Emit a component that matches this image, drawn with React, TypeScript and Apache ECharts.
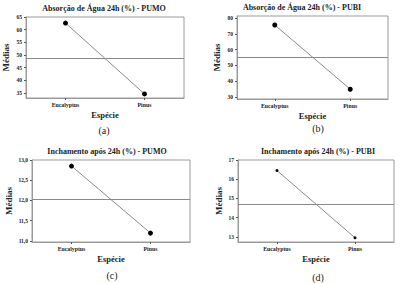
import React, { useEffect, useRef } from "react";
import * as echarts from "echarts";

const categories = ["Eucalyptus", "Pinus"];
const titles = [
  "Absorção de Água 24h (%) - PUMO",
  "Absorção de Água 24h (%) - PUBI",
  "Inchamento após 24h (%) - PUMO",
  "Inchamento após 24h (%) - PUBI",
];
const panelLabels = ["(a)", "(b)", "(c)", "(d)"];
const valuesA = [62.6, 34.6];
const valuesB = [75.6, 34.9];
const valuesC = [12.85, 11.19];
const valuesD = [16.45, 12.95];
const ticksA = [35, 40, 45, 50, 55, 60, 65];
const ticksB = [30, 40, 50, 60, 70, 80];
const ticksC = [11.0, 11.5, 12.0, 12.5, 13.0];
const ticksD = [13, 14, 15, 16, 17];

const SERIF = "'Liberation Serif', 'Times New Roman', serif";

export default function App() {
  const ref = useRef<HTMLDivElement>(null);
  useEffect(() => {
    const chart = echarts.init(ref.current!, undefined, { renderer: "svg" });

    const panels = [
      { grid: { left: 26, top: 17, width: 158, height: 81 }, min: 33, max: 65, ticks: ticksA, data: valuesA, fmt: (v: number) => String(v), nameGap: 16, sym: 5, title: [104, 8], lab: [104, 130] },
      { grid: { left: 237, top: 16, width: 151, height: 83 }, min: 28.7, max: 81.3, ticks: ticksB, data: valuesB, fmt: (v: number) => String(v), nameGap: 16, sym: 5, title: [302, 7], lab: [318, 128] },
      { grid: { left: 32, top: 160, width: 158, height: 82 }, min: 10.97, max: 13.0, ticks: ticksC, data: valuesC, fmt: (v: number) => v.toFixed(1).replace(".", ","), nameGap: 19, sym: 5, title: [107, 151], lab: [112, 275] },
      { grid: { left: 238, top: 160, width: 156, height: 82 }, min: 12.73, max: 17.0, ticks: ticksD, data: valuesD, fmt: (v: number) => String(v), nameGap: 15, sym: 3, title: [318, 151], lab: [318, 277] },
    ];

    const option: any = {
      animation: false,
      backgroundColor: "#fff",
      grid: panels.map((p) => ({ ...p.grid, show: true, borderColor: "#9a9a9a", borderWidth: 1, backgroundColor: "transparent" })),
      xAxis: panels.map((p, i) => ({
        type: "category",
        gridIndex: i,
        data: categories,
        boundaryGap: true,
        name: "Espécie",
        nameLocation: "middle",
        nameGap: 12,
        nameTextStyle: { fontFamily: SERIF, fontWeight: "bold", fontSize: 8.5, color: "#222" },
        axisLine: { show: true, lineStyle: { color: "#9a9a9a", width: 1 } },
        axisTick: { show: true, alignWithLabel: true, length: 2, lineStyle: { color: "#555" } },
        axisLabel: { fontFamily: SERIF, fontWeight: "bold", fontSize: 5.8, color: "#222", margin: 4 },
        splitLine: { show: false },
      })),
      yAxis: panels.map((p, i) => ({
        type: "value",
        gridIndex: i,
        min: p.min,
        max: p.max,
        name: "Médias",
        nameLocation: "middle",
        nameGap: p.nameGap,
        nameRotate: 90,
        nameTextStyle: { fontFamily: SERIF, fontWeight: "bold", fontSize: 9, color: "#222" },
        axisLine: { show: true, lineStyle: { color: "#9a9a9a", width: 1 } },
        axisTick: { show: true, length: 2, customValues: p.ticks, lineStyle: { color: "#555" } },
        axisLabel: { fontFamily: SERIF, fontWeight: "bold", fontSize: 5.5, color: "#222", margin: 4, customValues: p.ticks, formatter: p.fmt },
        splitLine: { show: false },
      })),
      series: panels.map((p, i) => ({
        type: "line",
        xAxisIndex: i,
        yAxisIndex: i,
        data: p.data,
        symbol: "circle",
        symbolSize: p.sym,
        itemStyle: { color: "#000" },
        lineStyle: { color: "#8a8a8a", width: 1 },
        markLine: {
          silent: true,
          symbol: "none",
          label: { show: false },
          lineStyle: { color: "#8a8a8a", width: 1, type: "solid" },
          data: [{ type: "average" }],
        },
      })),
      graphic: [
        ...panels.map((p, i) => ({
          type: "text",
          x: p.title[0],
          y: p.title[1],
          style: { text: titles[i], font: `bold 8px ${SERIF}`, fill: "#222", align: "center", verticalAlign: "middle" },
        })),
        ...panels.map((p, i) => ({
          type: "text",
          x: p.lab[0],
          y: p.lab[1],
          style: { text: panelLabels[i], font: `10px ${SERIF}`, fill: "#222", align: "center", verticalAlign: "middle" },
        })),
      ],
    };
    chart.setOption(option);
    return () => chart.dispose();
  }, []);
  return (
    <div
      ref={ref}
      style={{ position: "absolute", left: 0, top: 0, width: 401, height: 283 }}
    />
  );
}
